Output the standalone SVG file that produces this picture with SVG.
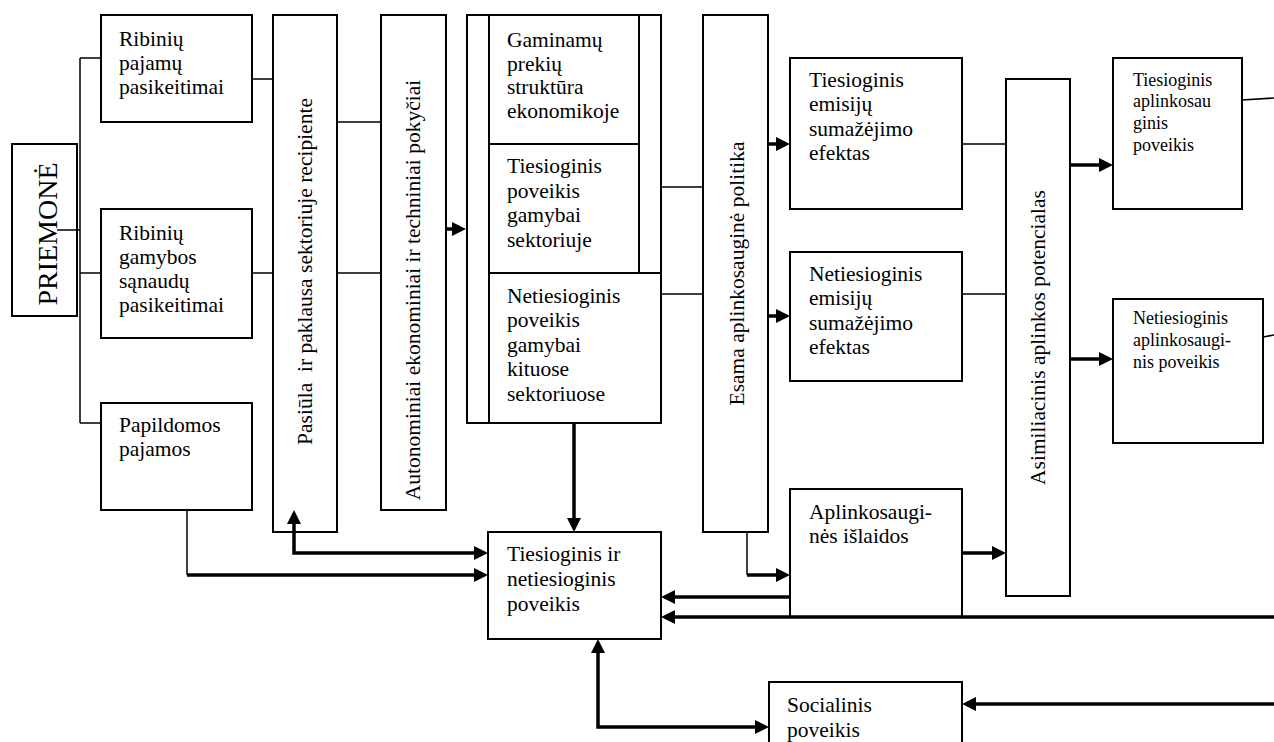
<svg xmlns="http://www.w3.org/2000/svg" width="1274" height="742" viewBox="0 0 1274 742">
  <style>
    .box { fill: #fff; stroke: #000; stroke-width: 2; }
    .edge { fill: none; stroke: #000; stroke-width: 2; }
    .thin { fill: none; stroke: #000; stroke-width: 1.5; }
    .thick { fill: none; stroke: #000; stroke-width: 3.5; }
    .arr { marker-end: url(#head); }
    .both { marker-start: url(#head); marker-end: url(#head); }
    text { font-family: "Liberation Serif", "Times New Roman", serif; font-size: 21.5px; fill: #000; }
    .sm { font-size: 18px; }
    .big { font-size: 28px; }
    .v { text-anchor: middle; }
  </style>
  <defs>
    <marker id="head" viewBox="0 0 14 14" markerWidth="14" markerHeight="14" markerUnits="userSpaceOnUse" refX="8" refY="7" orient="auto-start-reverse">
      <path d="M0,0 L14,7 L0,14 z" fill="#000"/>
    </marker>
  </defs>
  <rect width="1274" height="742" fill="#fff"/>

  <g id="priemone">
    <rect class="box" x="12" y="144" width="65" height="172"/>
    <text class="big v" transform="translate(57,234) rotate(-90)">PRIEMONĖ</text>
  </g>

  <g id="ribiniu-pajamu">
    <rect class="box" x="101" y="15" width="151" height="107"/>
    <text x="119" y="46">Ribinių</text>
    <text x="119" y="70">pajamų</text>
    <text x="119" y="94">pasikeitimai</text>
  </g>

  <g id="ribiniu-gamybos">
    <rect class="box" x="101" y="209" width="151" height="129"/>
    <text x="119" y="240">Ribinių</text>
    <text x="119" y="264">gamybos</text>
    <text x="119" y="288">sąnaudų</text>
    <text x="119" y="312">pasikeitimai</text>
  </g>

  <g id="papildomos">
    <rect class="box" x="101" y="403" width="151" height="107"/>
    <text x="119" y="432">Papildomos</text>
    <text x="119" y="456">pajamos</text>
  </g>

  <g id="pasiula">
    <rect class="box" x="273" y="15" width="64" height="517"/>
    <text class="v" xml:space="preserve" transform="translate(312,271.5) rotate(-90)">Pasiūla  ir paklausa sektoriuje recipiente</text>
  </g>

  <g id="autonominiai">
    <rect class="box" x="381" y="15" width="65" height="495"/>
    <text class="v" transform="translate(419.5,290) rotate(-90)">Autonominiai ekonominiai ir techniniai pokyčiai</text>
  </g>

  <g id="gamyba">
    <rect class="box" x="467" y="15" width="194" height="408"/>
    <path class="edge" d="M489,15 V423 M639,15 V273 M489,144 H639 M489,273 H661"/>
    <text x="507" y="47">Gaminamų</text>
    <text x="507" y="71">prekių</text>
    <text x="507" y="94">struktūra</text>
    <text x="507" y="118">ekonomikoje</text>
    <text x="507" y="173">Tiesioginis</text>
    <text x="507" y="198">poveikis</text>
    <text x="507" y="222">gamybai</text>
    <text x="507" y="247">sektoriuje</text>
    <text x="507" y="303">Netiesioginis</text>
    <text x="507" y="327">poveikis</text>
    <text x="507" y="352">gamybai</text>
    <text x="507" y="376">kituose</text>
    <text x="507" y="401">sektoriuose</text>
  </g>

  <g id="esama">
    <rect class="box" x="703" y="15" width="65" height="517"/>
    <text class="v" transform="translate(744,273.5) rotate(-90)">Esama aplinkosauginė politika</text>
  </g>

  <g id="tiesioginis-emisiju">
    <rect class="box" x="790" y="58" width="172" height="151"/>
    <text x="809" y="87">Tiesioginis</text>
    <text x="809" y="111">emisijų</text>
    <text x="809" y="136">sumažėjimo</text>
    <text x="809" y="160">efektas</text>
  </g>

  <g id="netiesioginis-emisiju">
    <rect class="box" x="790" y="252" width="172" height="129"/>
    <text x="809" y="281">Netiesioginis</text>
    <text x="809" y="305">emisijų</text>
    <text x="809" y="330">sumažėjimo</text>
    <text x="809" y="354">efektas</text>
  </g>

  <g id="islaidos">
    <rect class="box" x="790" y="489" width="172" height="128"/>
    <text x="809" y="519">Aplinkosaugi-</text>
    <text x="809" y="543">nės išlaidos</text>
  </g>

  <g id="asimiliacinis">
    <rect class="box" x="1006" y="79" width="64" height="517"/>
    <text class="v" transform="translate(1045,337.5) rotate(-90)">Asimiliacinis aplinkos potencialas</text>
  </g>

  <g id="tiesioginis-aplinkos">
    <rect class="box" x="1113" y="58" width="129" height="151"/>
    <text class="sm" x="1133" y="86">Tiesioginis</text>
    <text class="sm" x="1133" y="107">aplinkosau</text>
    <text class="sm" x="1133" y="129">ginis</text>
    <text class="sm" x="1133" y="151">poveikis</text>
  </g>

  <g id="netiesioginis-aplinkos">
    <rect class="box" x="1113" y="299" width="150" height="144"/>
    <text class="sm" x="1133" y="324">Netiesioginis</text>
    <text class="sm" x="1133" y="346">aplinkosaugi-</text>
    <text class="sm" x="1133" y="368">nis poveikis</text>
  </g>

  <g id="bendras-poveikis">
    <rect class="box" x="488" y="532" width="173" height="107"/>
    <text x="507" y="561">Tiesioginis ir</text>
    <text x="507" y="586">netiesioginis</text>
    <text x="507" y="611">poveikis</text>
  </g>

  <g id="socialinis">
    <rect class="box" x="769" y="682" width="193" height="70"/>
    <text x="787" y="712">Socialinis</text>
    <text x="787" y="737">poveikis</text>
  </g>

  <!-- connectors, drawn over the boxes -->
  <g id="connectors">
    <!-- thin joins -->
    <path class="thin" d="M80,58 V423 M80,58 H101 M80,273 H101 M80,423 H101 M57,230 H80"/>
    <path class="thin" d="M252,79 H273 M252,273 H273"/>
    <path class="thin" d="M337,122 H381 M337,273 H381"/>
    <path class="thin" d="M661,187 H703 M661,294 H703"/>
    <path class="thin" d="M962,144 H1006 M962,294 H1006"/>
    <path class="thin" d="M1242,100 L1274,98 M1263,337 L1274,335"/>
    <path class="thin" d="M187,510 V575 M747,532 V575"/>
    <!-- arrows -->
    <path class="thick arr" d="M446,229 H460"/>
    <path class="thick arr" d="M768,144 H784"/>
    <path class="thick arr" d="M768,316 H784"/>
    <path class="thick arr" d="M1070,165 H1107"/>
    <path class="thick arr" d="M1070,359 H1107"/>
    <path class="thick arr" d="M574,423 V526"/>
    <path class="thick both" d="M294,516 V553 H482"/>
    <path class="thick arr" d="M187,575 H482"/>
    <path class="thick arr" d="M747,575 H784"/>
    <path class="thick arr" d="M962,553 H1000"/>
    <path class="thick arr" d="M790,597 H667"/>
    <path class="thick arr" d="M1274,617 H667"/>
    <path class="thick both" d="M598,645 V727 H763"/>
    <path class="thick arr" d="M1274,704 H968"/>
  </g>
</svg>
